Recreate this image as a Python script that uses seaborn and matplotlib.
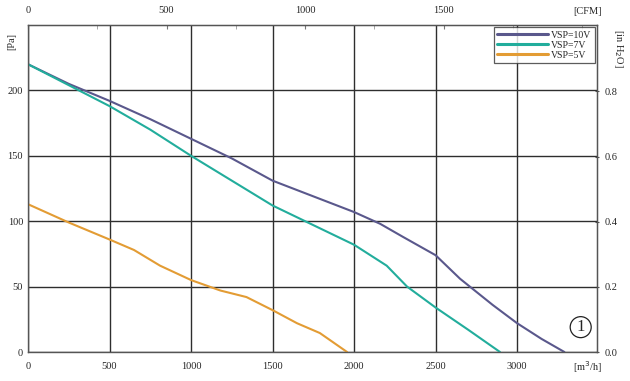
import seaborn as sns
import matplotlib.pyplot as plt
import pandas as pd

# airflow [m3/h] and static pressure [Pa]
flow_10v = [0, 250, 500, 750, 1000, 1250, 1500, 1750, 2000, 2160, 2300, 2500, 2650, 2710, 2850, 3000, 3150, 3290]
pres_10v = [220, 205, 192, 178, 163, 148, 131, 119, 107, 98, 88, 74, 56, 50, 36, 22, 10, 0]

flow_7v = [0, 250, 500, 750, 1000, 1250, 1500, 1750, 2000, 2200, 2325, 2500, 2700, 2895]
pres_7v = [220, 204, 188, 170, 150, 131, 112, 97, 82, 66, 50, 34, 17, 0]

flow_5v = [0, 250, 500, 650, 810, 1000, 1180, 1340, 1500, 1650, 1790, 1957]
pres_5v = [113, 99, 86, 78, 66, 55, 47, 42, 32, 22, 14.5, 0]

labels = ['VSP=10V', 'VSP=7V', 'VSP=5V']
colors = ['#5a588c', '#22ad9c', '#e39c34']

bottom_ticks = [0, 500, 1000, 1500, 2000, 2500, 3000]
left_ticks = [0, 50, 100, 150, 200]
right_ticks = [0.0, 0.2, 0.4, 0.6, 0.8]
top_major = [0, 500, 1000, 1500]
top_minor = [250, 750, 1250, 1750, 2000]

M3H_PER_CFM = 1.699
PA_PER_INH2O = 249.0

sns.set_style('white')
plt.rcParams['font.family'] = ['Liberation Serif', 'DejaVu Sans']

df = pd.concat([
    pd.DataFrame({'flow': flow_10v, 'pressure': pres_10v, 'curve': labels[0]}),
    pd.DataFrame({'flow': flow_7v, 'pressure': pres_7v, 'curve': labels[1]}),
    pd.DataFrame({'flow': flow_5v, 'pressure': pres_5v, 'curve': labels[2]}),
])

fig = plt.figure(figsize=(6.3, 3.81), dpi=100)
ax = fig.add_axes([28 / 630, 1 - 352 / 381, (597 - 28) / 630, (352 - 25) / 381])

sns.lineplot(data=df, x='flow', y='pressure', hue='curve', palette=colors,
             hue_order=labels, linewidth=1.5, sort=False, estimator=None, ax=ax)

ax.set_xlim(0, 3490)
ax.set_ylim(0, 250)
ax.set_xticks(bottom_ticks)
ax.set_yticks(left_ticks)
ax.grid(True, color='#2e2e2e', linewidth=1.0)
ax.set_axisbelow(True)
for s in ax.spines.values():
    s.set_color('#555555')
    s.set_linewidth(1.0)
ax.tick_params(labelsize=7.5, length=3, direction='inout', color='#555555')
ax.tick_params(axis='x', pad=6)
ax.tick_params(axis='y', pad=2)
ax.set_xlabel('')
ax.set_ylabel('')

top = ax.secondary_xaxis('top', functions=(lambda v: v / M3H_PER_CFM, lambda v: v * M3H_PER_CFM))
top.set_xticks(top_major)
top.set_xticks(top_minor, minor=True)
top.tick_params(labelsize=7.5, length=3, direction='in', color='#777777', pad=7)
top.tick_params(which='minor', length=3, direction='in', color='#999999')

right = ax.secondary_yaxis('right', functions=(lambda v: v / PA_PER_INH2O, lambda v: v * PA_PER_INH2O))
right.set_yticks(right_ticks)
right.set_yticklabels([f'{t:.1f}' for t in right_ticks])
right.tick_params(labelsize=7.5, length=3, direction='inout', color='#555555', pad=4)

leg = ax.legend(loc='upper right', fontsize=7, frameon=True, fancybox=False,
                borderpad=0.35, handlelength=5.2, handletextpad=0.3, labelspacing=0.1,
                borderaxespad=0.25)
leg.get_frame().set_edgecolor('#333333')
leg.get_frame().set_linewidth(0.9)
for line in leg.get_lines():
    line.set_linewidth(2.2)

fig.text(12 / 630, 1 - 42 / 381, '[Pa]', rotation=90, fontsize=7.5, ha='center', va='center')
fig.text(618 / 630, 1 - 48 / 381, '[in H$_2$O]', rotation=270, fontsize=7.5, ha='center', va='center')
fig.text(588 / 630, 1 - 11 / 381, '[CFM]', fontsize=7.5, ha='center', va='center')
fig.text(588 / 630, 1 - 367 / 381, '[m$^3$/h]', fontsize=7.5, ha='center', va='center')
ax.text(3390, 19, '1', fontsize=12, ha='center', va='center',
        bbox=dict(boxstyle='circle,pad=0.15', facecolor='white', edgecolor='#222222', linewidth=0.9))

fig.savefig('out.png', dpi=100)
